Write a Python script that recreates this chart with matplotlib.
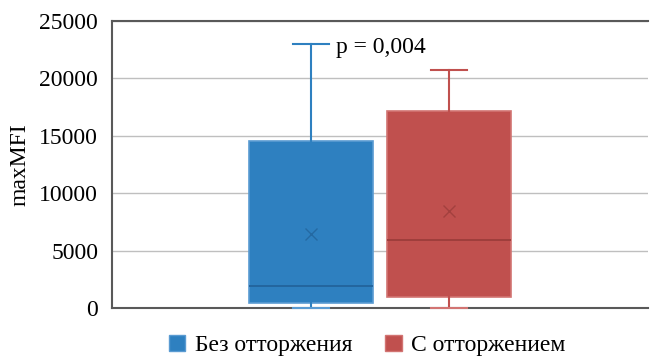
import matplotlib
matplotlib.use("Agg")
import matplotlib.pyplot as plt
from matplotlib.patches import Patch

plt.rcParams['font.family'] = ['Liberation Serif', 'DejaVu Serif']
plt.rcParams['font.size'] = 17

# summary statistics of maxMFI per group
groups = ['Без отторжения', 'С отторжением']
whislo = [0, 0]
q1 = [460, 980]
med = [1940, 5950]
q3 = [14550, 17190]
whishi = [23000, 20760]
means = [6450, 8480]

fills = ['#2E80C0', '#C0504E']
edges = ['#5A9BD2', '#D27472']
dark = ['#22649C', '#9C3D3B']

p_text = 'p = 0,004'

fig = plt.figure(figsize=(6.5, 3.58), dpi=100)
ax = fig.add_axes([0.1723, 0.1397, 0.8246, 0.8017])

for i in range(len(groups)):
    stats = [dict(whislo=whislo[i], q1=q1[i], med=med[i], q3=q3[i],
                  whishi=whishi[i], mean=means[i], label=groups[i])]
    parts = ax.bxp(stats, positions=[i + 1], widths=0.9, showmeans=True,
                   showfliers=False, patch_artist=True, capwidths=0.26,
                   boxprops=dict(facecolor=fills[i], edgecolor=edges[i], linewidth=1.2),
                   medianprops=dict(color=dark[i], linewidth=1.3),
                   whiskerprops=dict(color=fills[i], linewidth=1.5),
                   capprops=dict(color=fills[i], linewidth=1.5),
                   meanprops=dict(marker='x', markeredgecolor=dark[i],
                                  markersize=9, markeredgewidth=1.0, alpha=0.8),
                   zorder=3)
    # lower cap sits on the axis line, keep it drawn above the spine
    for cap in parts['caps']:
        cap.set_clip_on(False)
        cap.set_zorder(5)
    parts['caps'][0].set_color(edges[i])

ax.text(1.18, 22700, p_text, ha='left', va='center', fontsize=17)

ax.set_xlim(-0.44, 3.44)
ax.set_ylim(0, 25000)
ax.set_yticks([0, 5000, 10000, 15000, 20000, 25000])
ax.set_xticks([])
ax.tick_params(axis='y', length=0, pad=10)
ax.set_ylabel('maxMFI', labelpad=6)

ax.grid(axis='y', color='#BFBFBF', linewidth=1.0, zorder=0)
for side in ['left', 'top', 'bottom']:
    ax.spines[side].set_color('#595959')
    ax.spines[side].set_linewidth(1.5)
ax.spines['right'].set_visible(False)

handles = [Patch(facecolor=fills[i], edgecolor=edges[i]) for i in range(2)]
fig.legend(handles, groups, loc='center', bbox_to_anchor=(0.565, 0.035),
           ncol=2, frameon=False, handlelength=0.7, handleheight=0.7,
           handletextpad=0.4, columnspacing=1.4, fontsize=17)

fig.savefig('out.png', dpi=100)
